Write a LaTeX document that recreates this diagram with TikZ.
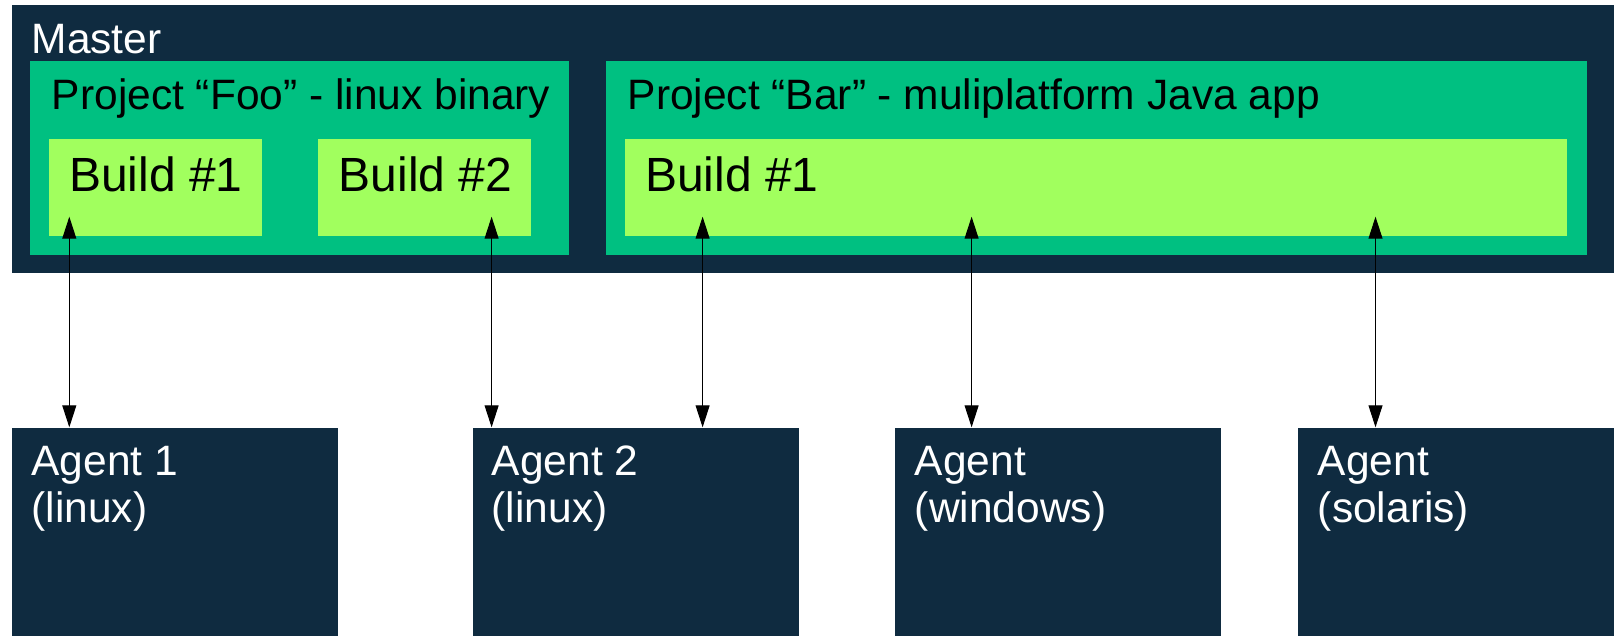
\documentclass[tikz,border=0pt]{standalone}
\usepackage{fontspec}
\setmainfont{Liberation Sans}
\usetikzlibrary{arrows.meta}
\definecolor{navy}{HTML}{0F2B40}
\definecolor{projgreen}{HTML}{00C081}
\definecolor{buildgreen}{HTML}{A1FF5E}
\tikzset{
  >={Triangle[width=14pt,length=22pt]},
  darkbox/.style ={fill=navy, inner sep=0, anchor=north west},
  projbox/.style ={fill=projgreen, inner sep=0, anchor=north west,
                   minimum height=194pt},
  buildbox/.style ={fill=buildgreen, inner sep=0, anchor=north west,
                   minimum height=97pt},
  agentbox/.style ={darkbox, minimum width=326pt, minimum height=215pt},
  boxtext/.style ={inner sep=0, anchor=base west},
  whitetext/.style ={boxtext, white, align=left,
                   font=\fontsize{42.5pt}{47.5pt}\selectfont},
  projtext/.style ={boxtext, font=\fontsize{42.5pt}{48pt}\selectfont},
  buildtext/.style ={boxtext, font=\fontsize{48pt}{55pt}\selectfont},
  link/.style ={<->, line width=1pt},
}
\begin{document}
\begin{tikzpicture}[x=1pt,y=-1pt]
\useasboundingbox (0,0) rectangle (1614,636);
\clip (0,0) rectangle (1614,636);
% master and its projects
\node[darkbox, minimum width=1610pt, minimum height=268.6pt] (master) at (11.5,4.7) {};
\node[whitetext] (mastertxt) at (31.4,53.3) {Master};
\node[projbox, minimum width=539pt] (foo) at (29.9,60.5) {};
\node[projtext] (footxt) at (51.7,109.3) {Project “Foo” - linux binary};
\node[projbox, minimum width=981pt] (bar) at (605.7,60.5) {};
\node[projtext] (bartxt) at (627.5,109.3) {Project “Bar” - muliplatform Java app};
% builds
\node[buildbox, minimum width=213pt] (foob1) at (49,138.7) {};
\node[buildtext] (foob1txt) at (69,192) {Build \#1};
\node[buildbox, minimum width=213pt] (foob2) at (318,138.7) {};
\node[buildtext] (foob2txt) at (338.5,192) {Build \#2};
\node[buildbox, minimum width=942pt] (barb1) at (624.8,138.7) {};
\node[buildtext] (barb1txt) at (645,192) {Build \#1};
% agents (base is the second line)
\node[agentbox] (ag1) at (11.5,427.3) {};
\node[whitetext] (ag1txt) at (31.4,522.5) {Agent 1\\(linux)};
\node[agentbox] (ag2) at (472.3,427.3) {};
\node[whitetext] (ag2txt) at (491.6,522.5) {Agent 2\\(linux)};
\node[agentbox] (agwin) at (894.9,427.3) {};
\node[whitetext] (agwintxt) at (914.7,522.5) {Agent\\(windows)};
\node[agentbox] (agsol) at (1298,427.3) {};
\node[whitetext] (agsoltxt) at (1317.7,522.5) {Agent\\(solaris)};
% arrow tips inside the builds
\coordinate (t1) at (69.3,216.7);
\coordinate (t2) at (491.6,216.7);
\coordinate (t3) at (702.6,216.7);
\coordinate (t4) at (971.6,216.7);
\coordinate (t5) at (1375.5,216.7);
\draw[link] (ag1.north -| t1) -- (t1);
\draw[link] (ag2.north -| t2) -- (t2);
\draw[link] (ag2.north -| t3) -- (t3);
\draw[link] (agwin.north -| t4) -- (t4);
\draw[link] (agsol.north -| t5) -- (t5);
\end{tikzpicture}
\end{document}
